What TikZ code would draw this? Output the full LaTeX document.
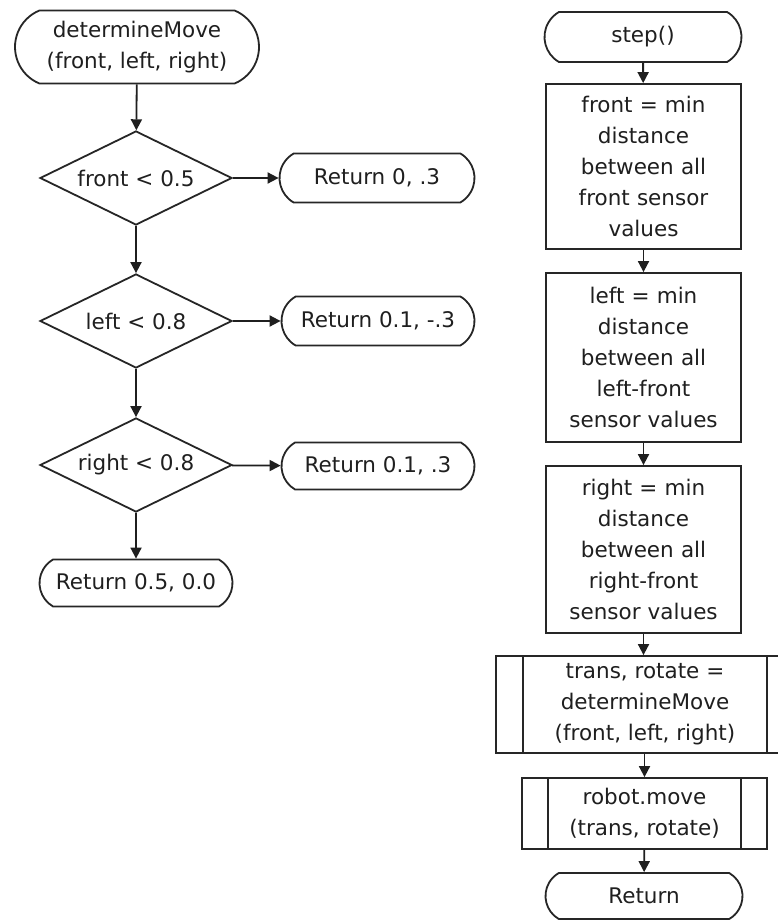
\documentclass[tikz,border=0pt]{standalone}
\usepackage{fontspec}
\setmainfont{DejaVu Sans}
\usetikzlibrary{shapes.geometric,shapes.misc,arrows.meta}
\begin{document}
\begin{tikzpicture}[x=1pt,y=-1pt,
  every node/.style={font=\fontsize{21.5}{31}\selectfont, inner sep=0pt, align=center, text=black!88},
  outline/.style={draw=black!85, line width=1.8pt},
  terminal/.style={outline, rounded rectangle, rounded rectangle arc length=120},
  decision/.style={outline, diamond, shape aspect=2},
  process/.style={outline, rectangle, minimum width=195, text width=190},
  predef/.style={outline, rectangle,
    path picture={
      \draw[line width=1.8pt, draw=black!85]
        ([xshift=#1]path picture bounding box.north west) -- ([xshift=#1]path picture bounding box.south west)
        ([xshift=-#1]path picture bounding box.north east) -- ([xshift=-#1]path picture bounding box.south east);
    }},
  flow/.style={draw=black!88, line width=1.8pt, -{Triangle[length=11pt,width=11pt]}}
]
\clip (0,0) rectangle (778,920);
\fill[white] (0,0) rectangle (778,920);

% determineMove routine
\node[terminal, minimum width=244, minimum height=73, rounded rectangle arc length=135] (start) at (137,47) {determineMove\\(front, left, right)};
\node[decision, minimum width=192, minimum height=94] (d1) at (136,178) {front < 0.5};
\node[terminal, minimum width=195, minimum height=49] (r1) at (377,178) {Return 0, .3};
\node[decision, minimum width=192, minimum height=94] (d2) at (136,321) {left < 0.8};
\node[terminal, minimum width=193, minimum height=49] (r2) at (378,321) {Return 0.1, -.3};
\node[decision, minimum width=192, minimum height=94] (d3) at (136,465) {right < 0.8};
\node[terminal, minimum width=193, minimum height=47] (r3) at (378,466) {Return 0.1, .3};
\node[terminal, minimum width=193, minimum height=47] (r4) at (136,583) {Return 0.5, 0.0};

\draw[flow] (start) -- (d1);
\draw[flow] (d1) -- (r1);
\draw[flow] (d1) -- (d2);
\draw[flow] (d2) -- (r2);
\draw[flow] (d2) -- (d3);
\draw[flow] (d3) -- (r3);
\draw[flow] (d3) -- (r4);

% step routine
\node[terminal, minimum width=197, minimum height=50] (s) at (643,37) {step()};
\node[process, minimum height=165] (b1) at (643.5,166.5) {front = min\\distance\\between all\\front sensor\\values};
\node[process, minimum height=169] (b2) at (643.5,357.5) {left = min\\distance\\between all\\left-front\\sensor values};
\node[process, minimum height=167] (b3) at (643.5,549.5) {right = min\\distance\\between all\\right-front\\sensor values};
\node[predef=27, minimum width=298, minimum height=97] (p1) at (645,704.5) {trans, rotate =\\determineMove\\(front, left, right)};
\node[predef=26, minimum width=245, minimum height=71] (p2) at (644.5,813.5) {robot.move\\(trans, rotate)};
\node[terminal, minimum width=197, minimum height=46] (ret) at (644,896) {Return};

\draw[flow] (s) -- (b1);
\draw[flow] (b1) -- (b2);
\draw[flow] (b2) -- (b3);
\draw[flow] (b3.south) -- (b3.south |- p1.north);
\draw[flow] (p1.south -| p2.north) -- (p2);
\draw[flow] (p2) -- (ret);
\end{tikzpicture}
\end{document}
